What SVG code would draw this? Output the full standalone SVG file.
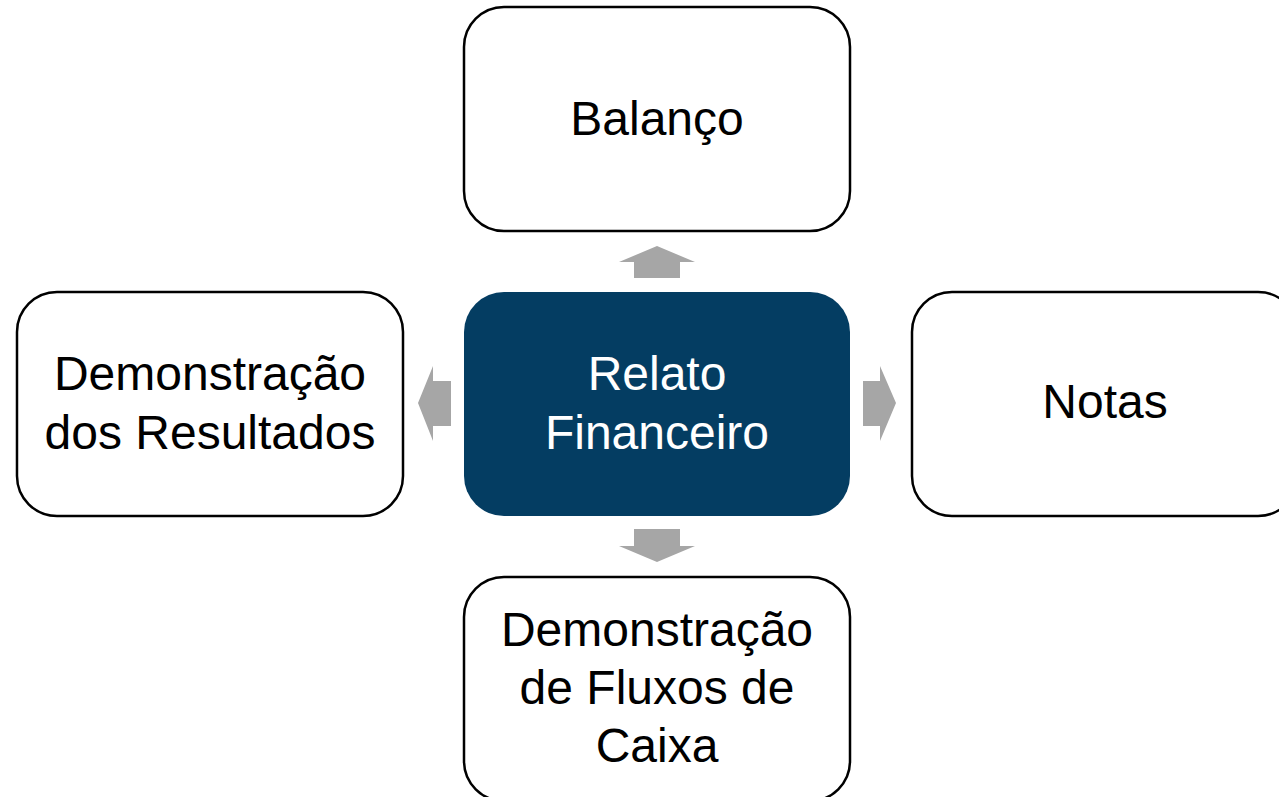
<svg xmlns="http://www.w3.org/2000/svg" width="1279" height="797" viewBox="0 0 1279 797">
<style>
.box{fill:#ffffff;stroke:#000000;stroke-width:2.5}
.main{fill:#043d62;stroke:none}
.t{font-family:"Liberation Sans",Arial,sans-serif;font-size:48px;text-anchor:middle;fill:#000000}
.tw{fill:#ffffff}
.arr{fill:#a6a6a6;stroke:none}
</style>
<rect width="1279" height="797" fill="#ffffff"/>
<g id="connectors">
<polygon class="arr" points="657,246 695,262 680,262 680,278 634,278 634,262 619,262"/>
<polygon class="arr" points="657,562 695,546 680,546 680,529 634,529 634,546 619,546"/>
<polygon class="arr" points="418,403 433,366 433,381 451,381 451,426 433,426 433,441"/>
<polygon class="arr" points="896,403 880,366 880,381 863,381 863,426 880,426 880,441"/>
</g>
<g id="node-balanco">
<rect class="box" x="464" y="7" width="386" height="224" rx="40" ry="40"/>
<text class="t" x="657" y="135">Balanço</text>
</g>
<g id="node-relato">
<rect class="main" x="464" y="292" width="386" height="224" rx="40" ry="40"/>
<text class="t tw" x="657" y="390">Relato</text>
<text class="t tw" x="657" y="449">Financeiro</text>
</g>
<g id="node-dr">
<rect class="box" x="17" y="292" width="386" height="224" rx="40" ry="40"/>
<text class="t" x="210" y="390">Demonstração</text>
<text class="t" x="210" y="449">dos Resultados</text>
</g>
<g id="node-notas">
<rect class="box" x="912" y="292" width="386" height="224" rx="40" ry="40"/>
<text class="t" x="1105" y="418">Notas</text>
</g>
<g id="node-dfc">
<rect class="box" x="464" y="577" width="386" height="224" rx="40" ry="40"/>
<text class="t" x="657" y="646">Demonstração</text>
<text class="t" x="657" y="704">de Fluxos de</text>
<text class="t" x="657" y="762">Caixa</text>
</g>
</svg>
